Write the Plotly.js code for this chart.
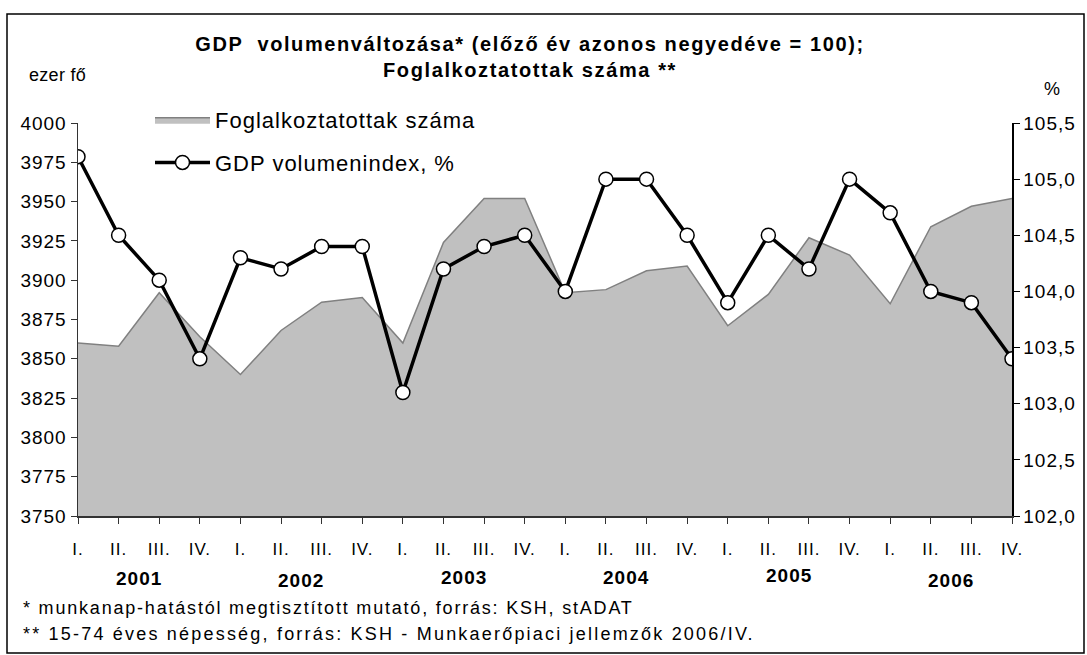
<!DOCTYPE html>
<html>
<head>
<meta charset="utf-8">
<script src="https://cdn.plot.ly/plotly-3.0.1.min.js"></script>
<style>
  html, body { margin: 0; padding: 0; background: #ffffff; }
  #chart { width: 1087px; height: 655px; }
  svg text { letter-spacing: 1px; }
</style>
</head>
<body>
<div id="chart"></div>
<script>
// ---- data ----
const quarterLabels = ["I.", "II.", "III.", "IV.", "I.", "II.", "III.", "IV.", "I.", "II.", "III.", "IV.",
                       "I.", "II.", "III.", "IV.", "I.", "II.", "III.", "IV.", "I.", "II.", "III.", "IV."];
const years = ["2001", "2002", "2003", "2004", "2005", "2006"];
const employment = [3860, 3858, 3892, 3864, 3840, 3868, 3886, 3889, 3860, 3924, 3952, 3952,
                    3892, 3894, 3906, 3909, 3871, 3891, 3927, 3916, 3885, 3934, 3947, 3952];
const gdpIndex = [105.2, 104.5, 104.1, 103.4, 104.3, 104.2, 104.4, 104.4, 103.1, 104.2, 104.4, 104.5,
                  104.0, 105.0, 105.0, 104.5, 103.9, 104.5, 104.2, 105.0, 104.7, 104.0, 103.9, 103.4];
const leftTicks = [3750, 3775, 3800, 3825, 3850, 3875, 3900, 3925, 3950, 3975, 4000];
const rightTicks = [102.0, 102.5, 103.0, 103.5, 104.0, 104.5, 105.0, 105.5];

const xIdx = quarterLabels.map((_, i) => i);
const FONT = "Liberation Sans, Arial, sans-serif";

// pixel helpers for plot-area relative (paper) coords
const L = 78, R = 1012, T = 123, B = 516;
const px = x => (x - L) / (R - L);
const py = y => (B - y) / (B - T);

const traces = [
  {
    x: xIdx, y: employment, name: "Foglalkoztatottak száma",
    type: "scatter", mode: "lines", fill: "tozeroy",
    fillcolor: "#c0c0c0", line: { color: "#808080", width: 1.5 },
    legendgroup: "a", yaxis: "y", hoverinfo: "y"
  },
  {
    x: xIdx, y: gdpIndex, name: "GDP volumenindex, %",
    type: "scatter", mode: "lines+markers",
    line: { color: "#000000", width: 3.5 },
    marker: { symbol: "circle", size: 14, color: "#ffffff", line: { color: "#000000", width: 1.5 } },
    legendgroup: "b", yaxis: "y2", hoverinfo: "y"
  }
];

const annotations = [];
const yearY = [578, 580, 577, 577, 575, 580];
years.forEach((yr, k) => {
  annotations.push({
    x: 4 * k + 1.5, xref: "x", y: py(yearY[k]), yref: "paper",
    text: "<b>" + yr + "</b>", showarrow: false, xanchor: "center", yanchor: "middle",
    font: { family: FONT, size: 19, color: "#000" }
  });
});
annotations.push({ x: px(27), y: py(75), xref: "paper", yref: "paper",
  text: "<span style='letter-spacing:0.3px'>ezer fő</span>",
  showarrow: false, xanchor: "left", yanchor: "middle", font: { family: FONT, size: 18, color: "#000" } });
annotations.push({ x: px(1052), y: py(89), xref: "paper", yref: "paper", text: "%",
  showarrow: false, xanchor: "center", yanchor: "middle", font: { family: FONT, size: 18, color: "#000" } });
annotations.push({ x: px(21), y: py(608), xref: "paper", yref: "paper",
  text: "<span style='letter-spacing:1.8px'>* munkanap-hatástól megtisztított mutató, forrás: KSH, stADAT</span>",
  showarrow: false, xanchor: "left", yanchor: "middle", font: { family: FONT, size: 18, color: "#000" } });
annotations.push({ x: px(21), y: py(634), xref: "paper", yref: "paper",
  text: "<span style='letter-spacing:2.2px'>** 15-74 éves népesség, forrás: KSH - Munkaerőpiaci jellemzők 2006/IV.</span>",
  showarrow: false, xanchor: "left", yanchor: "middle", font: { family: FONT, size: 18, color: "#000" } });

const layout = {
  width: 1087, height: 655,
  paper_bgcolor: "#ffffff", plot_bgcolor: "rgba(0,0,0,0)",
  separators: ", ",
  margin: { l: L, r: 1087 - R, t: T, b: 655 - B, pad: 0 },
  showlegend: true,
  title: {
    text: "<span style='letter-spacing:1.6px'>GDP  volumenváltozása* (előző év azonos negyedéve = 100);<br>Foglalkoztatottak száma **</span>",
    x: 530 / 1087, xanchor: "center", y: 1 - 51 / 655, yanchor: "middle", xref: "container", yref: "container",
    font: { family: FONT, size: 20, color: "#000", weight: "bold" }
  },
  legend: {
    x: px(150), y: py(99), xanchor: "left", yanchor: "top",
    bgcolor: "rgba(0,0,0,0)", borderwidth: 0,
    font: { family: FONT, size: 22, color: "#000" },
    traceorder: "grouped", tracegroupgap: 11, itemwidth: 55
  },
  xaxis: {
    range: [0, 23], tickmode: "array", tickvals: xIdx, ticktext: quarterLabels,
    showline: true, linecolor: "#333333", linewidth: 1.5, mirror: false,
    ticks: "outside", ticklen: 6, tickcolor: "#333333", tickwidth: 1,
    showgrid: false, zeroline: false, fixedrange: true,
    tickfont: { family: FONT, size: 17, color: "#000" }, ticklabelstandoff: 11
  },
  yaxis: {
    range: [3750, 4000], tickmode: "array", tickvals: leftTicks,
    showline: true, linecolor: "#333333", linewidth: 1.5,
    ticks: "outside", ticklen: 6, tickcolor: "#333333", tickwidth: 1,
    showgrid: false, zeroline: false, fixedrange: true,
    tickfont: { family: FONT, size: 19, color: "#000" }
  },
  yaxis2: {
    range: [102, 105.5], overlaying: "y", side: "right", anchor: "x",
    tickmode: "array", tickvals: rightTicks, tickformat: ".1f",
    showline: true, linecolor: "#000000", linewidth: 1.5,
    ticks: "outside", ticklen: 6, tickcolor: "#000000", tickwidth: 1,
    showgrid: false, zeroline: false, fixedrange: true,
    tickfont: { family: FONT, size: 19, color: "#000" }
  },
  annotations: annotations,
  shapes: [
    { type: "rect", xref: "paper", yref: "paper",
      x0: px(7), x1: px(1084), y0: py(653), y1: py(14),
      line: { color: "#000000", width: 1.5 }, fillcolor: "rgba(0,0,0,0)", layer: "above" }
  ]
};

Plotly.newPlot("chart", traces, layout, { displayModeBar: false, staticPlot: true });
</script>
</body>
</html>
